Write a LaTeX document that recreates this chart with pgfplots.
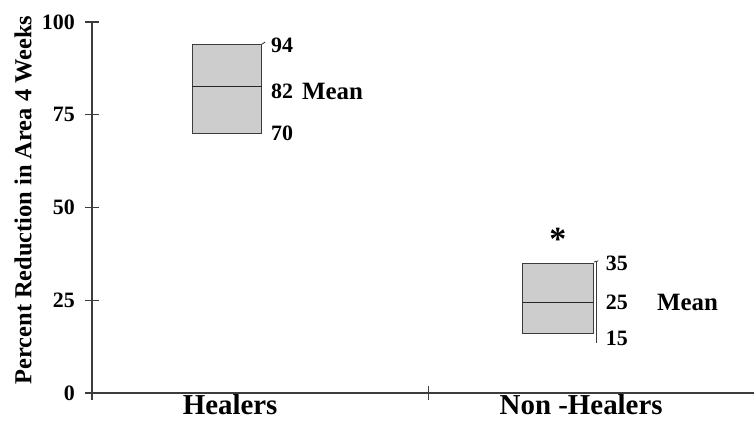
\documentclass[border=0pt]{standalone}
\usepackage{fontspec}
\setmainfont{Liberation Serif}
\usepackage{pgfplots}
\pgfplotsset{compat=1.18}
\definecolor{boxgray}{RGB}{205,205,205}
\definecolor{linegray}{RGB}{60,60,60}
\begin{document}
\begin{tikzpicture}[x=1bp,y=1bp]
\begin{axis}[
  at={(0,0)}, anchor=south west,
  scale only axis, width=662bp, height=371bp,
  xmin=0, xmax=1.965, ymin=0, ymax=100,
  axis x line*=bottom, axis y line*=left,
  axis line style={linegray, line width=1.1bp, -},
  every tick/.style={linegray, line width=1.1bp},
  tick align=center, major tick length=14bp,
  ytick={0,25,50,75,100},
  /pgf/number format/assume math mode=true,
  yticklabel style={font=\fontsize{22}{24}\selectfont\bfseries, anchor=east, inner sep=0pt, xshift=-10bp},
  xtick={0,1}, xticklabels={,},
  extra x ticks={0.41,1.452},
  extra x tick labels={Healers,Non -Healers},
  extra x tick style={major tick length=0pt,
    tick label style={font=\fontsize{29}{31}\selectfont\bfseries, anchor=north, inner sep=0pt, yshift=-1bp}},
  ylabel={Percent Reduction in Area 4 Weeks},
  ylabel style={at={(axis description cs:-0.104,0.52)}, anchor=center, font=\fontsize{24.5}{26}\selectfont\bfseries},
  clip=false,
]
% Healers box
\addplot[draw=linegray, fill=boxgray, line width=0.9bp] coordinates {(0.297,70) (0.504,70) (0.504,94) (0.297,94) (0.297,70)};
\addplot[black!85, line width=1.1bp] coordinates {(0.297,82.5) (0.504,82.5)};
\addplot[linegray, line width=0.9bp] coordinates {(0.504,94) (0.514,94.6)};
% Non-Healers box
\addplot[draw=linegray, fill=boxgray, line width=0.9bp] coordinates {(1.279,16) (1.487,16) (1.487,35) (1.279,35) (1.279,16)};
\addplot[black!85, line width=1.1bp] coordinates {(1.279,24.5) (1.487,24.5)};
\addplot[linegray, line width=0.9bp] coordinates {(1.496,13.5) (1.496,35.3)};
\addplot[linegray, line width=0.9bp] coordinates {(1.490,35.3) (1.503,35.6)};
% annotations
\begin{scope}[every node/.style={anchor=west, inner sep=0pt, font=\fontsize{22}{24}\selectfont\bfseries}]
\node at (axis cs:0.531,93.8) {94};
\node at (axis cs:0.531,81.2) {82};
\node at (axis cs:0.531,70) {70};
\node at (axis cs:1.525,35) {35};
\node at (axis cs:1.525,24.5) {25};
\node at (axis cs:1.525,14.8) {15};
\node[font=\fontsize{25}{27}\selectfont\bfseries] at (axis cs:0.623,81.2) {Mean};
\node[font=\fontsize{25}{27}\selectfont\bfseries] at (axis cs:1.677,24.5) {Mean};
\node[anchor=center, font=\fontsize{34}{36}\selectfont\bfseries] at (axis cs:1.383,41.5) {*};
\end{scope}
\end{axis}
\pgfresetboundingbox
\path (-92bp,-29bp) rectangle (663bp,393bp);
\end{tikzpicture}
\end{document}
